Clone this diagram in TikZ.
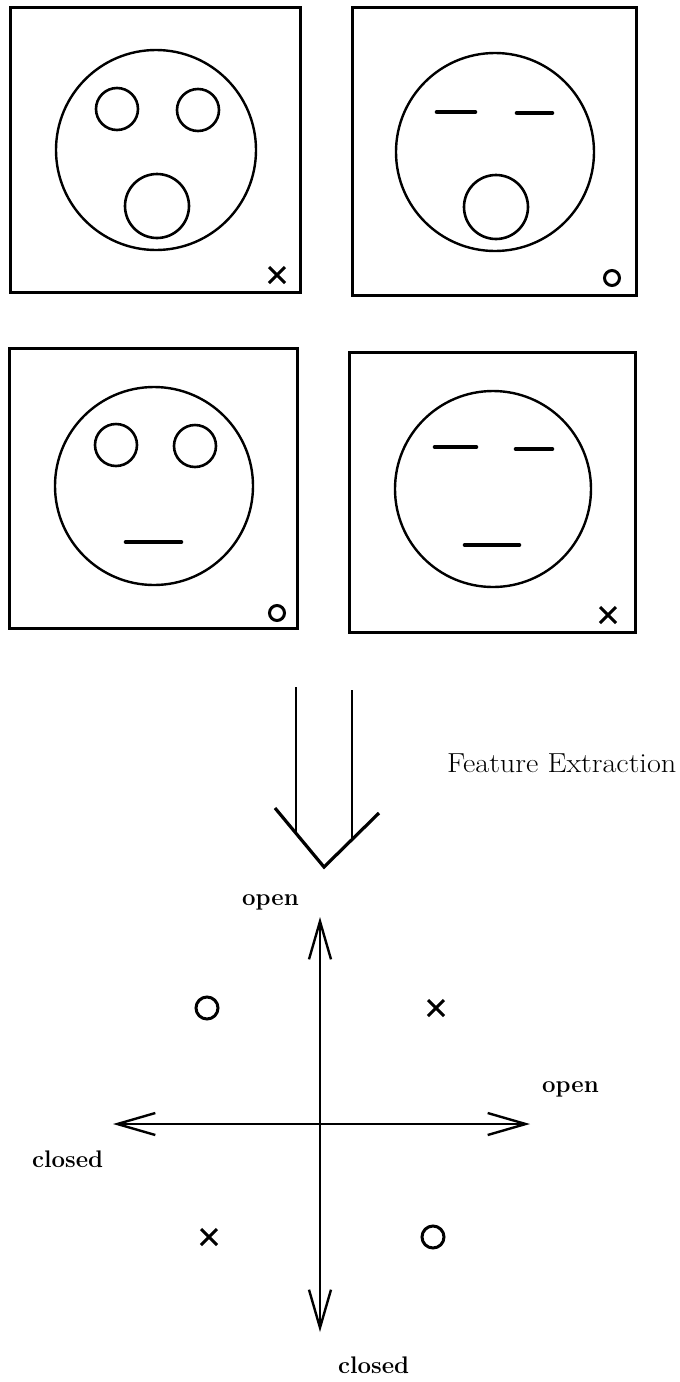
\documentclass[tikz,border=0pt]{standalone}
\usetikzlibrary{arrows.meta}

\tikzset{
  frame/.style={line width=3pt},
  face/.style={line width=2.4pt},
  feat/.style={line width=2.6pt},
  lid/.style={line width=4.6pt, line cap=round},
  token/.style={line width=3pt},
  bigarrow/.style={line width=2.2pt},
  axis/.style={line width=2.4pt, {Straight Barb[length=38pt,width=22pt]}-{Straight Barb[length=38pt,width=22pt]}},
  axislabel/.style={inner sep=0pt, anchor=base west, font=\fontsize{24}{28}\selectfont\bfseries},
  caption/.style={inner sep=0pt, anchor=base west, font=\fontsize{27.5}{32}\selectfont}
}

\begin{document}
\begin{tikzpicture}[x=1pt, y=-1pt]
  \useasboundingbox (0,0) rectangle (680,1382);

  % ---- panel 1: eyes open, mouth open (x) ----
  \draw[frame] (10,7) rectangle (300,292);
  \draw[face] (156,150) circle[radius=100];
  \draw[feat] (117,109) circle[radius=21];
  \draw[feat] (198,110) circle[radius=21];
  \draw[feat] (157,206) circle[radius=32];
  \draw[token] (269,267) -- (285,283) (269,283) -- (285,267);

  % ---- panel 2: eyes closed, mouth open (o) ----
  \draw[frame] (352,7) rectangle (636,295);
  \draw[face] (495,152) circle[radius=99];
  \draw[lid] (437,112) -- (475,112);
  \draw[lid] (517,113) -- (552,113);
  \draw[feat] (496,207) circle[radius=32];
  \draw[token] (612,278) circle[radius=7.5];

  % ---- panel 3: eyes open, mouth closed (o) ----
  \draw[frame] (9,348) rectangle (297,628);
  \draw[face] (154,486) circle[radius=99];
  \draw[feat] (116,445) circle[radius=21];
  \draw[feat] (195,446) circle[radius=21];
  \draw[lid] (126,542) -- (181,542);
  \draw[token] (277,613) circle[radius=7.5];

  % ---- panel 4: eyes closed, mouth closed (x) ----
  \draw[frame] (349,352) rectangle (635,632);
  \draw[face] (493,489) circle[radius=98];
  \draw[lid] (435,447) -- (476,447);
  \draw[lid] (516,449) -- (552,449);
  \draw[lid] (465,545) -- (519,545);
  \draw[token] (600,607) -- (616,623) (600,623) -- (616,607);

  % ---- feature extraction arrow ----
  \coordinate (sl) at (296,687);
  \coordinate (sr) at (352,690);
  \coordinate (hl) at (275,808);
  \coordinate (tip) at (324,867);
  \coordinate (hr) at (379,813);
  \draw[bigarrow] (sl) -- (296,833);
  \draw[bigarrow] (sr) -- (352,839);
  \draw[line width=3.2pt] (hl) -- (tip) -- (hr);
  \node[caption] (fe) at (447,772) {\scalebox{1.1}[1]{Feature Extraction}};

  % ---- feature space ----
  \coordinate (vtop) at (320,917);
  \coordinate (vbot) at (320,1332);
  \coordinate (hleft) at (113,1124);
  \coordinate (hright) at (530,1124);
  \draw[axis] (vbot) -- (vtop);
  \draw[axis] (hleft) -- (hright);

  \node[axislabel] (openv) at (242,905) {open};
  \node[axislabel] (openh) at (542,1092) {open};
  \node[axislabel] (closedh) at (32,1167) {closed};
  \node[axislabel] (closedv) at (338,1373) {closed};

  % sample points
  \draw[token] (207,1008) circle[radius=11];
  \draw[token] (428,1000) -- (444,1016) (428,1016) -- (444,1000);
  \draw[token] (201,1229) -- (217,1245) (201,1245) -- (217,1229);
  \draw[token] (433,1237) circle[radius=11];
\end{tikzpicture}
\end{document}
